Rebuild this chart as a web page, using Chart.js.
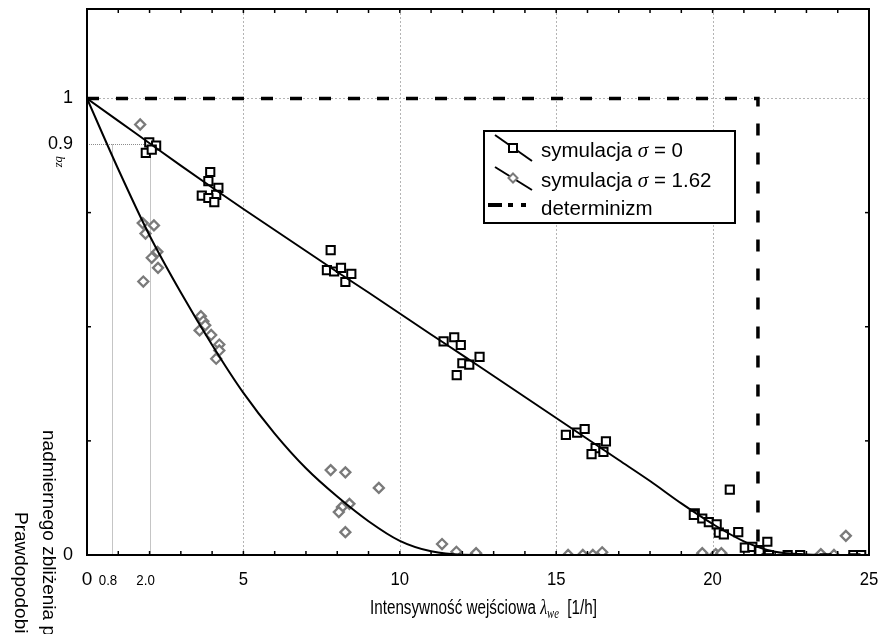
<!DOCTYPE html>
<html><head><meta charset="utf-8">
<script src="https://cdn.jsdelivr.net/npm/chart.js@4.4.1/dist/chart.umd.min.js"></script>
<style>html,body{margin:0;padding:0;background:#fff;overflow:hidden}#wrap{width:883px;height:634px;position:relative}</style>
</head><body><div id="wrap"><canvas id="c" width="883" height="634"></canvas></div>
<script>
// ---- data ----
const xTickValues = [0, 0.8, 2, 5, 10, 15, 20, 25];
const xTickLabels = ['0', '0.8', '2.0', '5', '10', '15', '20', '25'];
const yTickValues = [0, 0.9, 1];
const yTickLabels = ['0', '0.9', '1'];

const fitX = [0,1,2,3,4,5,6,7,8,9,10,11,12,13,14,15,16,17,18,19,20,21,22,23,24,25];
const fitSigma0 = [1,0.951,0.902,0.853,0.805,0.758,0.712,0.666,0.620,0.575,0.529,0.483,0.438,0.392,0.346,0.300,0.254,0.208,0.162,0.113,0.068,0.030,0.007,0.001,0,0];
const fitSigma162 = [1,0.845,0.700,0.575,0.460,0.355,0.266,0.190,0.128,0.074,0.031,0.008,0.0005,0,0,0,0,0,0,0,0,0,0,0,0,0];

const simSigma0X = [1.99,2.21,1.88,2.07, 3.94,3.88,4.20,4.13,3.67,3.88,4.07, 7.79,7.67,7.90,8.12,8.45,8.26, 11.40,11.74,11.95,12.55,12.00,12.22,11.82, 15.31,15.67,15.91,16.26,16.59,16.13,16.51, 19.43,19.40,19.67,19.88,20.13,20.20,20.36,20.55,20.82, 21.03,21.27,21.48,21.75,21.80,21.50, 22.40,22.80,24.50,24.75];
const simSigma0Y = [0.904,0.897,0.881,0.888, 0.839,0.819,0.804,0.789,0.787,0.782,0.773, 0.668,0.624,0.621,0.629,0.616,0.598, 0.468,0.477,0.460,0.434,0.420,0.417,0.394, 0.263,0.268,0.276,0.234,0.249,0.221,0.226, 0.091,0.088,0.080,0.072,0.067,0.049,0.045,0.143,0.050, 0.016,0.018,0.011,0.029,0.000,0.009, 0,0,0,0];

const simSigma162X = [1.70, 1.78,2.14,1.87,2.25,2.07,2.27,1.80, 3.64,3.72,3.78,3.60,3.97,4.23,4.23,4.13, 7.79,8.26,9.33,8.39,8.15,8.05,8.26, 11.35,11.81,12.44, 15.38,15.85,16.17,16.47, 19.67,20.10,20.28, 23.46,23.88,24.26];
const simSigma162Y = [0.943, 0.727,0.722,0.704,0.664,0.651,0.629,0.599, 0.523,0.512,0.503,0.492,0.482,0.461,0.448,0.430, 0.186,0.181,0.147,0.112,0.105,0.094,0.050, 0.024,0.007,0.004, 0,0,0,0.006, 0.004,0.002,0.004, 0.002,0,0.042];

const detX = [0, 21.45, 21.45, 25];
const detY = [1, 1, 0, 0];

const legendParts = [
  ['symulacja ', 'σ', ' = 0'],
  ['symulacja ', 'σ', ' = 1.62'],
  ['determinizm', '', '']
];
const xTitleParts = ['Intensywność wejściowa ', 'λ', 'we', '  [1/h]'];
const yTitleLine1 = 'nadmiernego zbliżenia p';
const yTitleLine2 = 'Prawdopodobieństwo';
const yTitleSub = 'bz';

const pts = (xs, ys) => xs.map((v, i) => ({x: v, y: ys[i]}));
const F = '"Liberation Sans", Arial, sans-serif';

const decor = {
  id: 'decor',
  beforeDatasetsDraw(chart) {
    const {ctx, chartArea: a, scales: {x, y}} = chart;
    ctx.save();
    const line = (x1, y1, x2, y2) => { ctx.beginPath(); ctx.moveTo(x1, y1); ctx.lineTo(x2, y2); ctx.stroke(); };
    ctx.lineWidth = 1;
    ctx.strokeStyle = '#b4b4b4';
    ctx.setLineDash([2, 2]);
    [5, 10, 15, 20].forEach(v => { const p = Math.round(x.getPixelForValue(v)) + 0.5; line(p, a.top, p, a.bottom); });
    const p1 = Math.round(y.getPixelForValue(1)) + 0.5;
    line(a.left, p1, a.right, p1);
    ctx.strokeStyle = '#8c8c8c';
    ctx.setLineDash([1, 1]);
    const p09 = Math.round(y.getPixelForValue(0.9)) + 0.5;
    [0.8, 2].forEach(v => { const p = Math.round(x.getPixelForValue(v)) + 0.5; line(p, p09, p, a.bottom); });
    line(a.left, p09, x.getPixelForValue(2), p09);
    ctx.restore();
  },
  afterDatasetsDraw(chart) {
    const {ctx, chartArea: a, scales: {x, y}} = chart;
    ctx.save();
    ctx.strokeStyle = '#000';
    ctx.lineWidth = 2;
    ctx.strokeRect(a.left, a.top, a.right - a.left, a.bottom - a.top);
    ctx.lineWidth = 1.5;
    const line = (x1, y1, x2, y2) => { ctx.beginPath(); ctx.moveTo(x1, y1); ctx.lineTo(x2, y2); ctx.stroke(); };
    for (let v = 1; v < 25; v++) {
      const p = x.getPixelForValue(v);
      line(p, a.bottom, p, a.bottom - 4);
      line(p, a.top, p, a.top + 4);
    }
    [0.25, 0.5, 0.75].forEach(v => {
      const p = y.getPixelForValue(v);
      line(a.left, p, a.left + 4, p);
      line(a.right, p, a.right - 4, p);
    });
    ctx.restore();
  },
  afterDraw(chart) {
    const {ctx, chartArea: a, scales: {x, y}} = chart;
    ctx.save();
    ctx.fillStyle = '#000';
    // x tick labels
    ctx.textBaseline = 'alphabetic';
    ctx.textAlign = 'center';
    xTickValues.forEach((v, i) => {
      let px = x.getPixelForValue(v);
      let size = 19, sx = 0.88;
      if (i === 0) { size = 19; sx = 1; }
      if (i === 1 || i === 2) { size = 14; sx = 0.95; px -= 4; }
      ctx.save();
      ctx.translate(px, 585);
      ctx.scale(sx, 1);
      ctx.font = size + 'px ' + F;
      ctx.fillText(xTickLabels[i], 0, 0);
      ctx.restore();
    });
    // x title
    ctx.textAlign = 'left';
    const fN = '20px ' + F, fI = 'italic 21px "Liberation Serif", serif', fS = 'italic 14px "Liberation Serif", serif';
    const w = [];
    ctx.font = fN; w[0] = ctx.measureText(xTitleParts[0]).width; w[3] = ctx.measureText(xTitleParts[3]).width;
    ctx.font = fI; w[1] = ctx.measureText(xTitleParts[1]).width;
    ctx.font = fS; w[2] = ctx.measureText(xTitleParts[2]).width;
    const total = w[0] + w[1] + w[2] + w[3];
    const sc = 227 / total;
    ctx.save();
    ctx.translate(370, 614);
    ctx.scale(sc, 1);
    let cx = 0;
    ctx.font = fN; ctx.fillText(xTitleParts[0], cx, 0); cx += w[0];
    ctx.font = fI; ctx.fillText(xTitleParts[1], cx, 0); cx += w[1];
    ctx.font = fS; ctx.fillText(xTitleParts[2], cx, 4); cx += w[2];
    ctx.font = fN; ctx.fillText(xTitleParts[3], cx, 0);
    ctx.restore();
    // y title (rotated, reading top-down)
    ctx.font = '19px ' + F;
    ctx.save(); ctx.translate(43, 430); ctx.rotate(Math.PI / 2); ctx.fillText(yTitleLine1, 0, 0); ctx.restore();
    ctx.save(); ctx.translate(15, 512); ctx.rotate(Math.PI / 2); ctx.fillText(yTitleLine2, 0, 0); ctx.restore();
    ctx.font = 'italic 13px "Liberation Serif", serif';
    ctx.save(); ctx.translate(56, 156); ctx.rotate(Math.PI / 2); ctx.fillText(yTitleSub, 0, 0); ctx.restore();
    // legend
    ctx.lineWidth = 2;
    ctx.strokeStyle = '#000';
    ctx.fillStyle = '#fff';
    ctx.fillRect(484, 131, 251, 92);
    ctx.strokeRect(484, 131, 251, 92);
    const seg = (x1, y1, x2, y2) => { ctx.beginPath(); ctx.moveTo(x1, y1); ctx.lineTo(x2, y2); ctx.stroke(); };
    seg(495, 135, 532, 161);
    ctx.fillStyle = '#fff';
    ctx.fillRect(509, 144, 8, 8); ctx.strokeRect(509, 144, 8, 8);
    seg(495, 167, 532, 190);
    ctx.strokeStyle = '#7a7a7a';
    ctx.beginPath(); ctx.moveTo(513, 173.5); ctx.lineTo(517.5, 178); ctx.lineTo(513, 182.5); ctx.lineTo(508.5, 178); ctx.closePath(); ctx.fill(); ctx.stroke();
    ctx.fillStyle = '#000';
    ctx.fillRect(488, 203, 14, 4); ctx.fillRect(508, 203, 5, 4); ctx.fillRect(521, 203, 5, 4);
    const bl = [157, 186.5, 215];
    legendParts.forEach((parts, i) => {
      let lx = 541;
      ctx.font = '20.5px ' + F; ctx.fillText(parts[0], lx, bl[i]); lx += ctx.measureText(parts[0]).width;
      if (parts[1]) { ctx.font = 'italic 21px "Liberation Serif", serif'; ctx.fillText(parts[1], lx, bl[i]); lx += ctx.measureText(parts[1]).width; }
      if (parts[2]) { ctx.font = '20.5px ' + F; ctx.fillText(parts[2], lx, bl[i]); }
    });
    ctx.restore();
  }
};

new Chart(document.getElementById('c'), {
  type: 'scatter',
  data: {
    datasets: [
      {label: 'fit0', data: pts(fitX, fitSigma0), showLine: true, borderColor: '#000', borderWidth: 2, pointRadius: 0, cubicInterpolationMode: 'monotone', fill: false},
      {label: 'fit162', data: pts(fitX, fitSigma162), showLine: true, borderColor: '#000', borderWidth: 2, pointRadius: 0, cubicInterpolationMode: 'monotone', fill: false},
      {label: 'determinizm', data: pts(detX, detY), showLine: true, borderColor: '#000', borderWidth: 3.5, borderDash: [12, 17], borderCapStyle: 'butt', pointRadius: 0, tension: 0, fill: false},
      {label: 'symulacja σ = 0', data: pts(simSigma0X, simSigma0Y), showLine: false, pointStyle: 'rect', pointRadius: 5.8, borderColor: '#000', borderWidth: 2, backgroundColor: '#fff'},
      {label: 'symulacja σ = 1.62', data: pts(simSigma162X, simSigma162Y), showLine: false, pointStyle: 'rectRot', pointRadius: 5, borderColor: '#7a7a7a', borderWidth: 2.3, backgroundColor: '#fff'}
    ]
  },
  options: {
    responsive: false,
    animation: false,
    events: [],
    layout: {padding: {top: 9, right: 14, left: 0, bottom: 0}},
    plugins: {legend: {display: false}, tooltip: {enabled: false}},
    scales: {
      x: {
        type: 'linear', min: 0, max: 25,
        grid: {display: false}, border: {display: false},
        ticks: {display: false},
        afterFit: s => { s.height = 79; s.paddingLeft = 0; s.paddingRight = 0; }
      },
      y: {
        type: 'linear', min: 0, max: 1.196,
        grid: {display: false, drawTicks: false}, border: {display: false},
        afterBuildTicks: s => { s.ticks = yTickValues.map(v => ({value: v})); },
        ticks: {
          autoSkip: false, padding: 14, color: '#000',
          font: {family: '"Liberation Sans", Arial, sans-serif', size: 18},
          callback: v => { const i = yTickValues.indexOf(v); return i >= 0 ? yTickLabels[i] : ''; }
        },
        afterFit: s => { s.width = 87; s.paddingTop = 0; s.paddingBottom = 0; }
      }
    }
  },
  plugins: [decor]
});
</script></body></html>
